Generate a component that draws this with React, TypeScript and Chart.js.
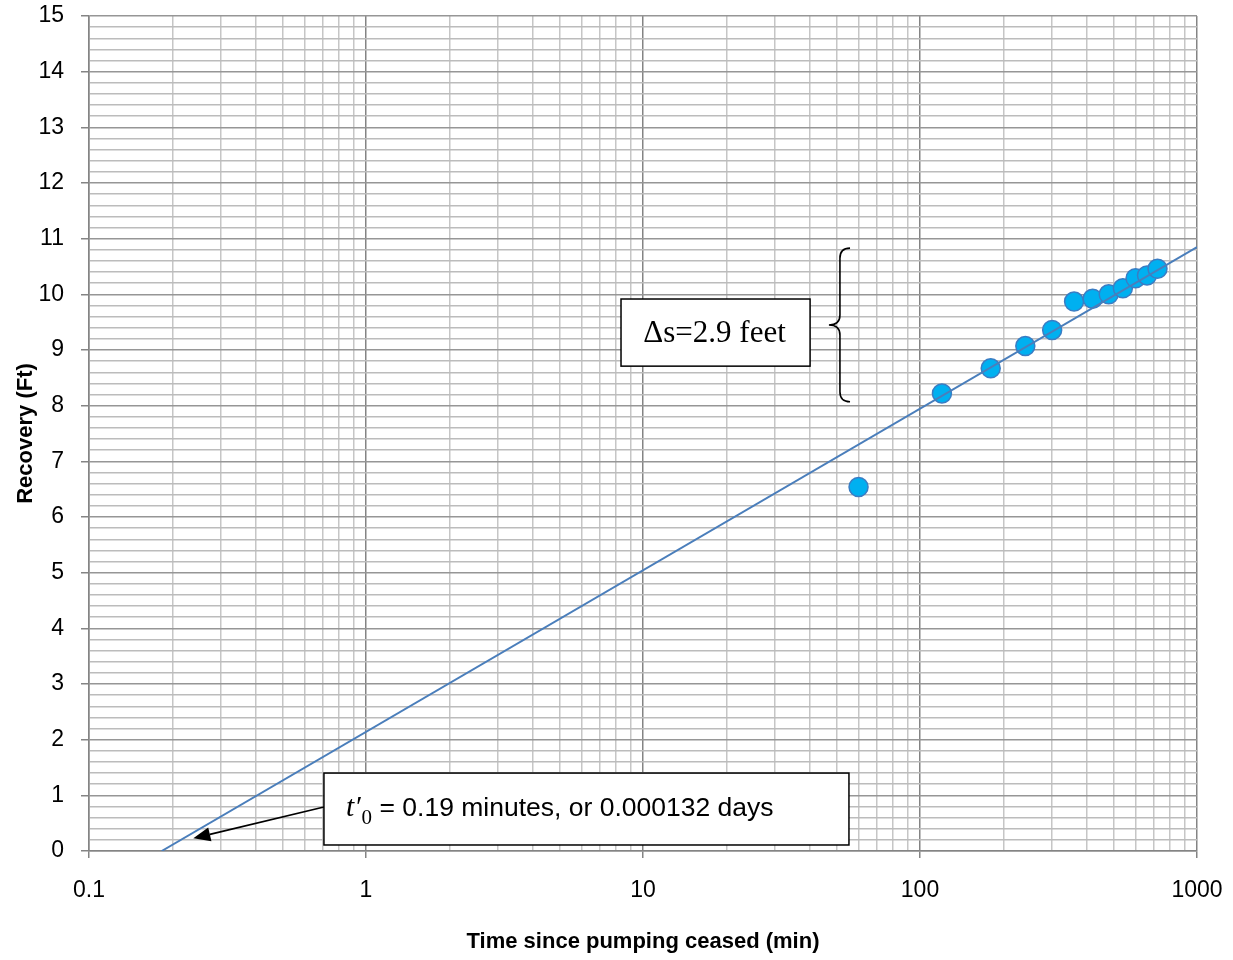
import React, { useEffect, useRef } from 'react';
import { Chart, registerables } from 'chart.js';

Chart.register(...registerables);

// ---- Data ----
const recoveryTimes = [60, 120, 180, 240, 300, 360, 420, 480, 540, 600, 660, 720];
const recoveryValues = [6.54, 8.22, 8.67, 9.07, 9.36, 9.87, 9.92, 10.0, 10.11, 10.29, 10.34, 10.46];
const fitTimes = [0.183, 1000];
const fitValues = [0, 10.85];
const xMajorTicks = [0.1, 1, 10, 100, 1000];
const xMinorMultipliers = [2, 3, 4, 5, 6, 7, 8, 9];
const yMajorTicks = [0, 1, 2, 3, 4, 5, 6, 7, 8, 9, 10, 11, 12, 13, 14, 15];
const yMinorPerUnit = 5;

const xTitle = 'Time since pumping ceased (min)';
const yTitle = 'Recovery (Ft)';
const deltaLabel = 'Δs=2.9 feet';
const t0Main = ' = 0.19 minutes, or 0.000132 days';

// annotation anchors in data units
const deltaBox = { x0: 8.33, x1: 40.1, y0: 8.71, y1: 9.916 };
const brace = { xEnd: 55.9, xSpine: 51.4, xTip: 46.9, yTop: 10.83, yMid: 9.45, yBot: 8.07 };
const t0Box = { x0: 0.705, x1: 55.4, y0: 0.108, y1: 1.4 };
const arrow = { x0: 0.705, y0: 0.79, x1: 0.238, y1: 0.228 };

function fontExists(name: string): boolean {
  const c = document.createElement('canvas');
  const ctx = c.getContext('2d');
  if (!ctx) return false;
  const s = 'mmmmmmlllli1000WwQ';
  ctx.font = '72px monospace';
  const a = ctx.measureText(s).width;
  ctx.font = `72px "${name}", monospace`;
  const b = ctx.measureText(s).width;
  ctx.font = '72px serif';
  const c1 = ctx.measureText(s).width;
  ctx.font = `72px "${name}", serif`;
  const d = ctx.measureText(s).width;
  return a !== b || c1 !== d;
}

export default function App() {
  const ref = useRef<HTMLCanvasElement | null>(null);

  useEffect(() => {
    if (!ref.current) return;
    let narrow: string | null = null;
    for (const n of ['Liberation Sans Narrow', 'Arial Narrow']) {
      if (fontExists(n)) { narrow = n; break; }
    }
    const family = narrow ? `"${narrow}"` : '"Liberation Sans", Arial, sans-serif';
    const tickSize = narrow ? 25 : 23;
    const titleSize = narrow ? 26 : 22;
    const annSize = narrow ? 32 : 26.5;

    const isMajorX = (v: number) => Math.abs(Math.log10(v) - Math.round(Math.log10(v))) < 1e-6;
    const isMajorY = (v: number) => Math.abs(v - Math.round(v)) < 1e-6;

    const xTicks: number[] = [];
    for (let i = 0; i < xMajorTicks.length; i++) {
      xTicks.push(xMajorTicks[i]);
      if (i < xMajorTicks.length - 1) {
        for (const m of xMinorMultipliers) xTicks.push(+(xMajorTicks[i] * m).toPrecision(6));
      }
    }
    const yTicks: number[] = [];
    for (let i = 0; i < yMajorTicks.length; i++) {
      yTicks.push(yMajorTicks[i]);
      if (i < yMajorTicks.length - 1) {
        for (let k = 1; k < yMinorPerUnit; k++) yTicks.push(+(yMajorTicks[i] + k / yMinorPerUnit).toFixed(4));
      }
    }

    const annotations = {
      id: 'annotations',
      afterDraw(chart: any) {
        const ctx = chart.ctx as CanvasRenderingContext2D;
        const xs = chart.scales.x;
        const ys = chart.scales.y;
        const px = (v: number) => xs.getPixelForValue(v);
        const py = (v: number) => ys.getPixelForValue(v);
        ctx.save();
        // Delta box
        {
          const l = px(deltaBox.x0), r = px(deltaBox.x1), t = py(deltaBox.y1), b = py(deltaBox.y0);
          ctx.fillStyle = '#ffffff';
          ctx.fillRect(l, t, r - l, b - t);
          ctx.strokeStyle = '#000000';
          ctx.lineWidth = 1.5;
          ctx.strokeRect(l, t, r - l, b - t);
          ctx.fillStyle = '#000';
          ctx.font = '31px "Liberation Serif", "Times New Roman", serif';
          ctx.textAlign = 'center';
          ctx.textBaseline = 'alphabetic';
          ctx.fillText(deltaLabel, (l + r) / 2 - 1, t + (b - t) * 0.64);
        }
        // Brace
        {
          const xe = px(brace.xEnd), xsp = px(brace.xSpine), xt = px(brace.xTip);
          const yt = py(brace.yTop), ym = py(brace.yMid), yb = py(brace.yBot);
          const rr = 10;
          ctx.beginPath();
          ctx.moveTo(xe, yt);
          ctx.quadraticCurveTo(xsp, yt, xsp, yt + rr);
          ctx.lineTo(xsp, ym - rr);
          ctx.quadraticCurveTo(xsp, ym, xt, ym);
          ctx.quadraticCurveTo(xsp, ym, xsp, ym + rr);
          ctx.lineTo(xsp, yb - rr);
          ctx.quadraticCurveTo(xsp, yb, xe, yb);
          ctx.strokeStyle = '#000';
          ctx.lineWidth = 1.6;
          ctx.stroke();
        }
        // Arrow
        {
          const x0 = px(arrow.x0), y0 = py(arrow.y0), x1 = px(arrow.x1), y1 = py(arrow.y1);
          const ang = Math.atan2(y1 - y0, x1 - x0);
          const hl = 17, hw = 7;
          const bx = x1 - hl * Math.cos(ang), by = y1 - hl * Math.sin(ang);
          ctx.beginPath();
          ctx.moveTo(x0, y0);
          ctx.lineTo(bx, by);
          ctx.strokeStyle = '#000';
          ctx.lineWidth = 1.6;
          ctx.stroke();
          ctx.beginPath();
          ctx.moveTo(x1, y1);
          ctx.lineTo(bx + hw * Math.sin(ang), by - hw * Math.cos(ang));
          ctx.lineTo(bx - hw * Math.sin(ang), by + hw * Math.cos(ang));
          ctx.closePath();
          ctx.fillStyle = '#000';
          ctx.fill();
        }
        // t'0 box
        {
          const l = px(t0Box.x0), r = px(t0Box.x1), t = py(t0Box.y1), b = py(t0Box.y0);
          ctx.fillStyle = '#ffffff';
          ctx.fillRect(l, t, r - l, b - t);
          ctx.strokeStyle = '#000000';
          ctx.lineWidth = 1.5;
          ctx.strokeRect(l, t, r - l, b - t);
          ctx.fillStyle = '#000';
          ctx.textAlign = 'left';
          ctx.textBaseline = 'alphabetic';
          const base = t + (b - t) * 0.6;
          let x = l + 22;
          ctx.font = `italic ${annSize + 3}px "Liberation Serif", "Times New Roman", serif`;
          ctx.fillText('t′', x, base);
          x += ctx.measureText('t′').width + 1;
          ctx.font = `${Math.round(annSize * 0.8)}px "Liberation Serif", "Times New Roman", serif`;
          ctx.fillText('0', x, base + 8);
          x += ctx.measureText('0').width;
          ctx.font = `${annSize}px ${family}`;
          ctx.fillText(t0Main, x, base);
        }
        ctx.restore();
      },
    };

    const chart = new Chart(ref.current, {
      type: 'scatter',
      data: {
        datasets: [
          {
            label: 'Fit',
            data: fitTimes.map((t, i) => ({ x: t, y: fitValues[i] })),
            showLine: true,
            borderColor: '#4a7ebb',
            borderWidth: 2,
            pointRadius: 0,
            pointHoverRadius: 0,
            order: 0,
          },
          {
            label: 'Recovery',
            data: recoveryTimes.map((t, i) => ({ x: t, y: recoveryValues[i] })),
            backgroundColor: '#00b0f0',
            borderColor: '#3a7dc4',
            borderWidth: 1.5,
            pointRadius: 9.5,
            order: 1,
          },
        ],
      },
      options: {
        animation: false,
        responsive: true,
        maintainAspectRatio: false,
        layout: { padding: { top: 16, right: 36, left: 0, bottom: 0 } },
        plugins: { legend: { display: false }, tooltip: { enabled: false } },
        scales: {
          x: {
            type: 'logarithmic',
            min: 0.1,
            max: 1000,
            afterBuildTicks: (s: any) => { s.ticks = xTicks.map((v) => ({ value: v })); },
            afterFit: (s: any) => { s.height = 109; s.paddingLeft = 0; s.paddingRight = 0; },
            ticks: {
              autoSkip: false,
              maxRotation: 0,
              minRotation: 0,
              padding: 19,
              color: '#000',
              font: { family, size: tickSize },
              callback: (v: any) => (isMajorX(Number(v)) ? String(Number(v)) : ''),
            },
            grid: {
              color: (c: any) => (c.tick && isMajorX(c.tick.value) ? '#848484' : '#c6c6c6'),
              tickColor: (c: any) => (c.tick && isMajorX(c.tick.value) ? '#848484' : 'rgba(0,0,0,0)'),
              tickLength: 7,
              lineWidth: 1.5,
            },
            border: { color: '#848484', width: 1.5 },
            title: {
              display: true,
              text: xTitle,
              color: '#000',
              font: { family, size: titleSize, weight: 'bold' },
              padding: { top: 0, bottom: 5 },
            },
          },
          y: {
            type: 'linear',
            min: 0,
            max: 15,
            afterBuildTicks: (s: any) => { s.ticks = yTicks.map((v) => ({ value: v })); },
            afterFit: (s: any) => { s.width = 89; s.paddingTop = 0; s.paddingBottom = 0; },
            ticks: {
              autoSkip: false,
              padding: 17,
              color: '#000',
              font: { family, size: tickSize },
              callback: (v: any) => (isMajorY(Number(v)) ? String(Math.round(Number(v))) : ''),
            },
            grid: {
              color: (c: any) => (c.tick && isMajorY(c.tick.value) ? '#969696' : '#bcbcbc'),
              tickColor: (c: any) => (c.tick && isMajorY(c.tick.value) ? '#848484' : 'rgba(0,0,0,0)'),
              tickLength: 8,
              lineWidth: 1.5,
            },
            border: { color: '#848484', width: 1.5 },
            title: {
              display: true,
              text: yTitle,
              color: '#000',
              font: { family, size: titleSize, weight: 'bold' },
              padding: { top: 13, bottom: 0 },
            },
          },
        },
      },
      plugins: [annotations],
    } as any);

    return () => chart.destroy();
  }, []);

  return (
    <div style={{ position: 'fixed', left: 0, top: 0, width: 1233, height: 960, background: '#fff' }}>
      <canvas ref={ref} />
    </div>
  );
}
